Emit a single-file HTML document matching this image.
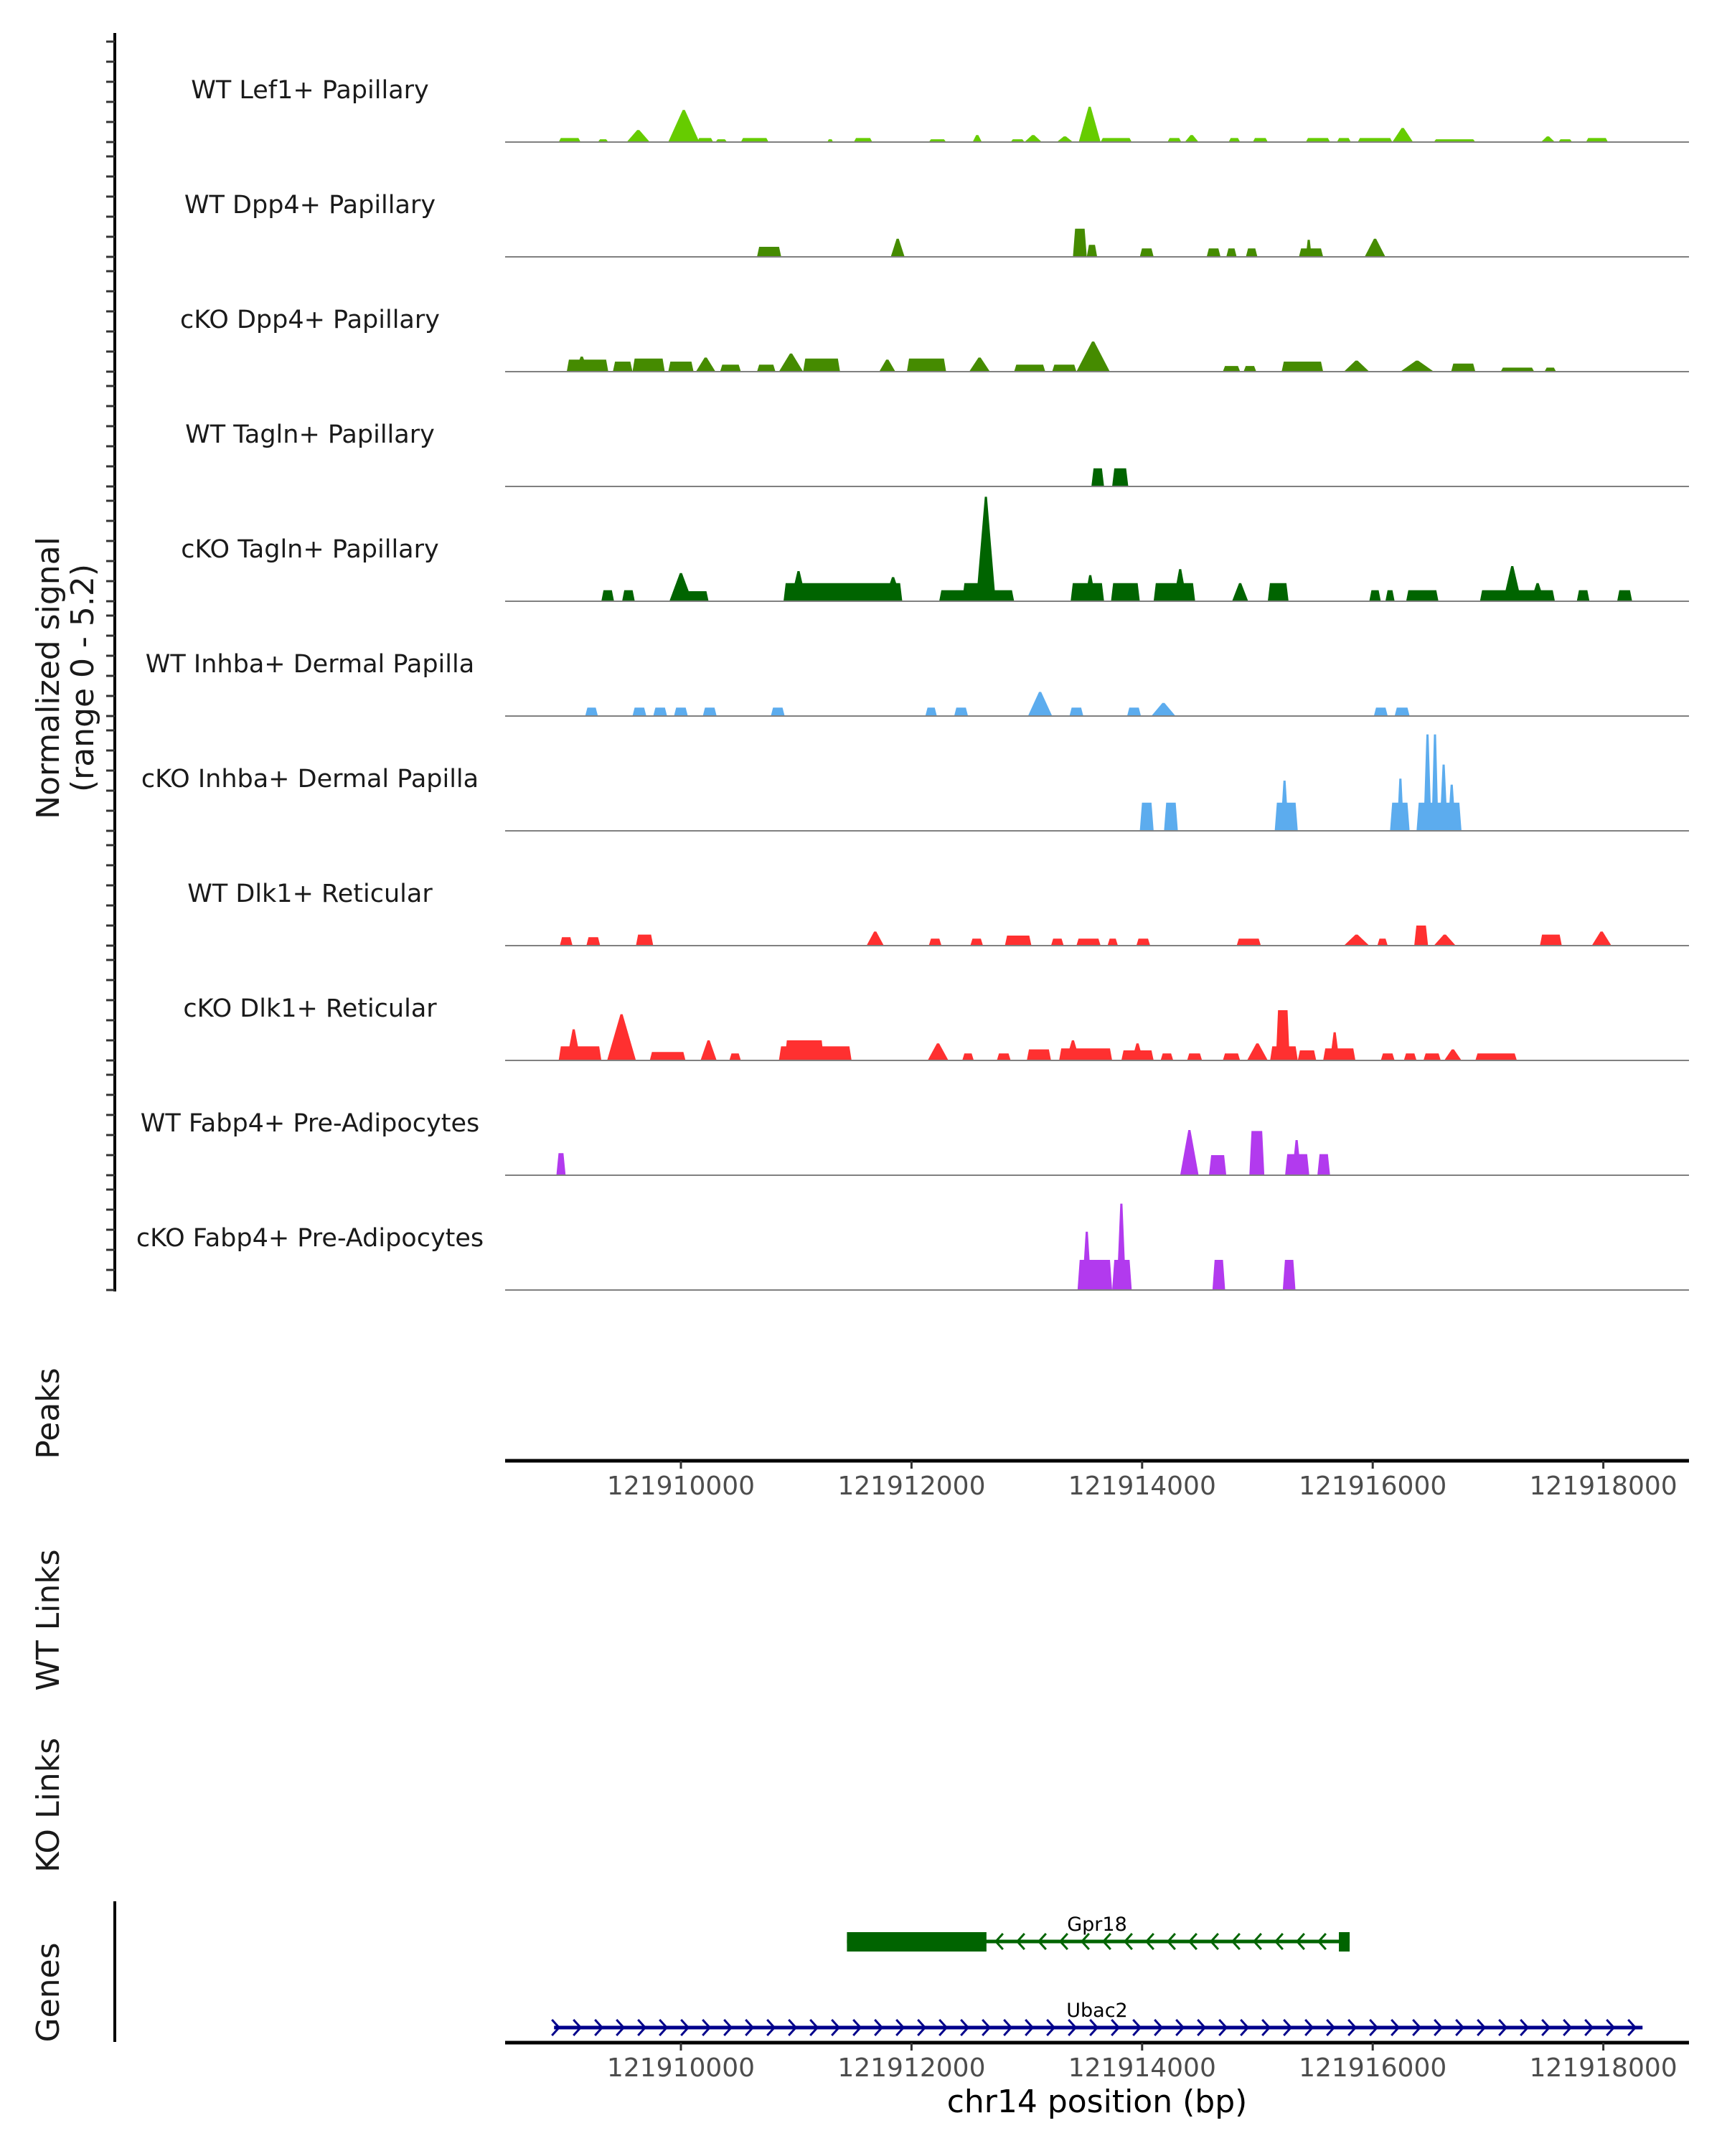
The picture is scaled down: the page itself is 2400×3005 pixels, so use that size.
<!DOCTYPE html>
<html><head><meta charset="utf-8"><style>
html,body{margin:0;padding:0;background:#fff;}
svg text{font-family:"DejaVu Sans","Liberation Sans",sans-serif;}
</style></head><body>
<svg id="chart" width="2400" height="3000" viewBox="0 0 2400 3000" xmlns="http://www.w3.org/2000/svg">
<g id="tracks"></g>
<g id="axes"></g>
<g id="genes"></g>
</svg>
<script>
// ---- data (positions in kb on chr14, heights in normalized signal) ----
const trackNames = ["WT Lef1+ Papillary","WT Dpp4+ Papillary","cKO Dpp4+ Papillary","WT Tagln+ Papillary","cKO Tagln+ Papillary","WT Inhba+ Dermal Papilla","cKO Inhba+ Dermal Papilla","WT Dlk1+ Reticular","cKO Dlk1+ Reticular","WT Fabp4+ Pre-Adipocytes","cKO Fabp4+ Pre-Adipocytes"];
const trackColors = ["#66cc00","#458b00","#458b00","#006400","#006400","#5cacee","#5cacee","#ff3030","#ff3030","#b23aee","#b23aee"];
const xTicks = [121910000,121912000,121914000,121916000,121918000];
const wtLef1 = [[121908.94,121909.13,0.2,0],[121909.28,121909.37,0.14,0],[121909.53,121909.73,0.6,1],[121909.89,121910.16,1.6,1],[121910.14,121910.28,0.2,0],[121910.30,121910.40,0.14,0],[121910.52,121910.76,0.2,0],[121911.27,121911.32,0.14,0],[121911.50,121911.66,0.2,0],[121912.15,121912.30,0.14,0],[121912.53,121912.61,0.35,1],[121912.86,121912.98,0.14,0],[121912.98,121913.13,0.35,1],[121913.26,121913.40,0.28,1],[121913.45,121913.64,1.76,1],[121913.64,121913.91,0.2,0],[121914.22,121914.34,0.2,0],[121914.37,121914.49,0.35,1],[121914.75,121914.85,0.2,0],[121914.96,121915.09,0.2,0],[121915.42,121915.63,0.2,0],[121915.69,121915.81,0.2,0],[121915.87,121916.17,0.2,0],[121916.17,121916.35,0.7,1],[121916.53,121916.89,0.14,0],[121917.46,121917.58,0.28,1],[121917.61,121917.73,0.14,0],[121917.85,121918.04,0.2,0]];
const wtDpp4 = [[121910.66,121910.87,0.5,0],[121911.82,121911.94,0.9,1],[121913.40,121913.52,1.4,0],[121913.52,121913.61,0.6,0],[121913.98,121914.10,0.42,0],[121914.56,121914.68,0.42,0],[121914.73,121914.82,0.42,0],[121914.90,121915.00,0.42,0],[121915.36,121915.57,0.42,0],[121915.42,121915.47,0.85,1],[121915.93,121916.11,0.9,1]];
const koDpp4 = [[121909.01,121909.37,0.6,0],[121909.08,121909.20,0.75,1],[121909.41,121909.58,0.5,0],[121909.58,121909.86,0.65,0],[121909.89,121910.11,0.5,0],[121910.13,121910.30,0.7,1],[121910.34,121910.52,0.35,0],[121910.66,121910.82,0.35,0],[121910.85,121911.06,0.9,1],[121911.06,121911.38,0.65,0],[121911.72,121911.86,0.6,1],[121911.96,121912.30,0.65,0],[121912.50,121912.68,0.7,1],[121912.89,121913.16,0.35,0],[121913.22,121913.43,0.35,0],[121913.43,121913.72,1.5,1],[121914.70,121914.85,0.28,0],[121914.88,121914.99,0.28,0],[121915.21,121915.57,0.5,0],[121915.75,121915.97,0.55,1],[121916.24,121916.53,0.55,1],[121916.68,121916.89,0.4,0],[121917.11,121917.40,0.2,0],[121917.49,121917.59,0.2,0]];
const wtTagln = [[121913.56,121913.67,0.9,0],[121913.74,121913.88,0.9,0]];
const koTagln = [[121909.31,121909.42,0.55,0],[121909.49,121909.60,0.55,0],[121909.90,121910.10,1.4,1],[121910.05,121910.24,0.5,0],[121910.89,121911.92,0.9,0],[121910.95,121911.09,1.5,1],[121911.76,121911.92,1.2,1],[121912.24,121912.89,0.55,0],[121912.44,121912.68,0.9,0],[121912.56,121912.73,5.2,1],[121913.38,121913.67,0.9,0],[121913.50,121913.60,1.3,1],[121913.73,121913.98,0.9,0],[121914.10,121914.46,0.9,0],[121914.27,121914.39,1.6,1],[121914.78,121914.92,0.9,1],[121915.09,121915.27,0.9,0],[121915.97,121916.07,0.55,0],[121916.11,121916.19,0.55,0],[121916.29,121916.57,0.55,0],[121916.93,121917.58,0.55,0],[121917.13,121917.29,1.75,1],[121917.37,121917.49,0.9,1],[121917.77,121917.88,0.55,0],[121918.12,121918.25,0.55,0]];
const wtInhba = [[121909.17,121909.28,0.42,0],[121909.58,121909.70,0.42,0],[121909.76,121909.88,0.42,0],[121909.94,121910.06,0.42,0],[121910.19,121910.31,0.42,0],[121910.78,121910.90,0.42,0],[121912.12,121912.22,0.42,0],[121912.37,121912.49,0.42,0],[121913.01,121913.22,1.2,1],[121913.37,121913.49,0.42,0],[121913.87,121913.99,0.42,0],[121914.08,121914.29,0.65,1],[121916.01,121916.13,0.42,0],[121916.19,121916.32,0.42,0]];
const koInhba = [[121913.98,121914.10,1.4,0],[121914.19,121914.31,1.4,0],[121915.15,121915.35,1.4,0],[121915.20,121915.27,2.5,1],[121916.15,121916.32,1.4,0],[121916.21,121916.27,2.6,1],[121916.38,121916.77,1.4,0],[121916.44,121916.51,4.8,1],[121916.51,121916.57,4.8,1],[121916.58,121916.65,3.3,1],[121916.65,121916.72,2.3,1]];
const wtDlk1 = [[121908.95,121909.06,0.42,0],[121909.18,121909.30,0.42,0],[121909.61,121909.76,0.55,0],[121911.61,121911.76,0.7,1],[121912.15,121912.26,0.35,0],[121912.51,121912.62,0.35,0],[121912.81,121913.04,0.5,0],[121913.21,121913.32,0.35,0],[121913.43,121913.64,0.35,0],[121913.70,121913.79,0.35,0],[121913.95,121914.07,0.35,0],[121914.82,121915.03,0.35,0],[121915.75,121915.97,0.55,1],[121916.04,121916.13,0.35,0],[121916.36,121916.48,1.0,0],[121916.53,121916.72,0.55,1],[121917.45,121917.64,0.55,0],[121917.90,121918.07,0.7,1]];
const koDlk1 = [[121908.94,121909.31,0.7,0],[121909.01,121909.13,1.55,1],[121909.36,121909.61,2.3,1],[121909.73,121910.04,0.42,0],[121910.17,121910.31,1.0,1],[121910.42,121910.52,0.35,0],[121910.85,121911.48,0.7,0],[121910.90,121911.24,1.0,0],[121912.14,121912.32,0.85,1],[121912.44,121912.54,0.35,0],[121912.74,121912.86,0.35,0],[121913.00,121913.21,0.55,0],[121913.28,121913.74,0.6,0],[121913.34,121913.46,1.0,1],[121913.82,121914.10,0.5,0],[121913.91,121914.01,0.85,1],[121914.16,121914.27,0.35,0],[121914.39,121914.52,0.35,0],[121914.70,121914.85,0.35,0],[121914.91,121915.09,0.85,1],[121915.11,121915.35,0.7,0],[121915.16,121915.28,2.5,0],[121915.35,121915.51,0.5,0],[121915.57,121915.85,0.6,0],[121915.63,121915.71,1.4,1],[121916.07,121916.19,0.35,0],[121916.27,121916.38,0.35,0],[121916.44,121916.59,0.35,0],[121916.62,121916.77,0.55,1],[121916.89,121917.25,0.35,0]];
const wtFabp4 = [[121908.92,121909.00,1.1,0],[121914.33,121914.49,2.25,1],[121914.58,121914.73,1.0,0],[121914.93,121915.06,2.2,0],[121915.24,121915.45,1.05,0],[121915.30,121915.38,1.75,1],[121915.52,121915.63,1.05,0]];
const koFabp4 = [[121913.44,121913.74,1.5,0],[121913.48,121913.56,2.9,1],[121913.74,121913.91,1.5,0],[121913.78,121913.86,4.3,1],[121914.61,121914.72,1.5,0],[121915.22,121915.33,1.5,0]];
const trackData = [wtLef1,wtDpp4,koDpp4,wtTagln,koTagln,wtInhba,koInhba,wtDlk1,koDlk1,wtFabp4,koFabp4];
const geneNames = ["Gpr18","Ubac2"];
const geneStarts = [121911.44,121908.90];
const geneEnds = [121915.80,121918.34];
const geneStrands = [-1,1];
const geneCdsStart = [121911.44,null];
const geneCdsEnd = [121912.65,null];

// ---- scales ----
const NS="http://www.w3.org/2000/svg";
const xS = kb => 949 + (kb - 121910) * 160.7;
const X_LEFT = 704, X_RIGHT = 2354;
const firstBase = 198, trackStep = 160, unitPx = 28;
const baseOf = i => firstBase + i * trackStep;
const yS = (i, v) => baseOf(i) - v * unitPx;
function mk(tag, attrs, parent){const e=document.createElementNS(NS,tag);for(const k in attrs)e.setAttribute(k,attrs[k]);parent.appendChild(e);return e;}

const gT = document.getElementById('tracks');
trackNames.forEach((name,i)=>{
  const g = mk('g',{},gT);
  
  
  const lab = mk('text',{x:432,y:baseOf(i)-71,'font-size':35,'text-anchor':'middle','dominant-baseline':'middle',fill:'#1a1a1a'},g);
  lab.textContent = name;
  
  
  trackData[i].forEach(s=>{
    const x1=xS(s[0]), x2=xS(s[1]), b=baseOf(i), t=yS(i,s[2]);
    let pts;
    if(s[3]===1){const m=(x1+x2)/2;pts=`${x1},${b} ${m-1.5},${t} ${m+1.5},${t} ${x2},${b}`;}
    else{const sl=Math.min(3,(x2-x1)/4);pts=`${x1},${b} ${x1+sl},${t} ${x2-sl},${t} ${x2},${b}`;}
    const p = mk('polygon',{points:pts,fill:trackColors[i]},g);
    
    
  });
  const bl = mk('line',{x1:X_LEFT,x2:X_RIGHT,y1:baseOf(i),y2:baseOf(i),stroke:'#808080','stroke-width':2},g);
  
  
});

// ---- axes ----
const gA = document.getElementById('axes');
const yl = mk('line',{x1:160,x2:160,y1:46,y2:1800,stroke:'#000','stroke-width':4},gA);


for(let i=0;i<trackNames.length;i++){for(let k=0;k<6;k++){const y=yS(i,k);if(y<46)continue;
  const t=mk('line',{x1:148,x2:160,y1:y,y2:y,stroke:'#333','stroke-width':3},gA);
  
  }}
function vtext(txt,x,y,name,size){const t=mk('text',{x:x,y:y,'font-size':size,'text-anchor':'middle',transform:`rotate(-90 ${x} ${y})`,fill:'#1a1a1a'},gA);t.textContent=txt;
  
  }
vtext('Normalized signal',82,945,'y-axis-title',44);
vtext('(range 0 - 5.2)',130,945,'y-axis-subtitle',44);
vtext('Peaks',82,1970,'peaks-label',44);
vtext('WT Links',82,2258,'wt-links-label',44);
vtext('KO Links',82,2516,'ko-links-label',44);
vtext('Genes',82,2777,'genes-label',44);
function xaxis(y,name){
  const l=mk('line',{x1:X_LEFT,x2:X_RIGHT,y1:y,y2:y,stroke:'#000','stroke-width':5},gA);
  
  
  xTicks.forEach(v=>{const x=xS(v/1000);
    const t=mk('line',{x1:x,x2:x,y1:y,y2:y+11,stroke:'#333','stroke-width':3},gA);
    
    
    const tx=mk('text',{x:x,y:y+47,'font-size':36,'text-anchor':'middle',fill:'#4d4d4d'},gA);tx.textContent=v;
    
    });
}
xaxis(2036,'peaks-x-axis');
xaxis(2847,'genes-x-axis');
const xt=mk('text',{x:1529,y:2944,'font-size':44,'text-anchor':'middle',fill:'#000'},gA);xt.textContent='chr14 position (bp)';


const gl=mk('line',{x1:160,x2:160,y1:2650,y2:2846,stroke:'#000','stroke-width':4},gA);



// ---- genes ----
const gG=document.getElementById('genes');
const geneY=[2706,2826], geneCol=['#006400','#00008b'];
geneNames.forEach((n,i)=>{
  const g=mk('g',{},gG);
  
  
  const x1=xS(geneStarts[i]),x2=xS(geneEnds[i]),y=geneY[i],c=geneCol[i];
  mk('line',{x1:x1,x2:x2,y1:y,y2:y,stroke:c,'stroke-width':5},g);
  if(geneCdsStart[i]!==null){
    mk('rect',{x:xS(geneCdsStart[i]),y:y-13,width:xS(geneCdsEnd[i])-xS(geneCdsStart[i]),height:27,fill:c},g);
    mk('rect',{x:x2-15,y:y-13,width:15,height:27,fill:c},g);
  }
  const from = geneCdsStart[i]!==null? xS(geneCdsEnd[i])+18 : x1+2;
  const to = geneCdsStart[i]!==null? x2-20 : x2;
  for(let x=from;x<=to;x+=30){
    const d=geneStrands[i]*5;
    mk('polyline',{points:`${x-d},${y-11} ${x+d},${y} ${x-d},${y+11}`,fill:'none',stroke:c,'stroke-width':3},g);
  }
  const t=mk('text',{x:1529,y:y-15,'font-size':27,'text-anchor':'middle',fill:'#000'},g);t.textContent=n;
  
  
});
</script>
</body></html>
